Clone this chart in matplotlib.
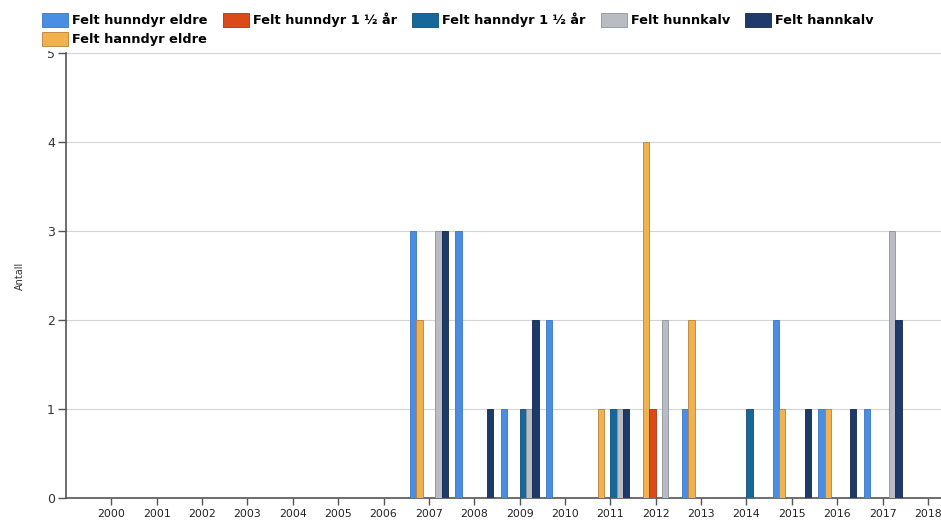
import matplotlib.pyplot as plt
from matplotlib.patches import Rectangle
import numpy as np

years = list(range(2000, 2019))

# values per year 2000..2018
hunndyr_eldre = [0, 0, 0, 0, 0, 0, 0, 3, 3, 1, 2, 0, 0, 1, 0, 2, 1, 1, 0]
hunndyr_15 = [0, 0, 0, 0, 0, 0, 0, 0, 0, 0, 0, 0, 1, 0, 0, 0, 0, 0, 0]
hanndyr_15 = [0, 0, 0, 0, 0, 0, 0, 0, 0, 1, 0, 1, 0, 0, 1, 0, 0, 0, 0]
hunnkalv = [0, 0, 0, 0, 0, 0, 0, 3, 0, 1, 0, 1, 2, 0, 0, 0, 0, 3, 0]
hannkalv = [0, 0, 0, 0, 0, 0, 0, 3, 1, 2, 0, 1, 0, 0, 0, 1, 1, 2, 0]
hanndyr_eldre = [0, 0, 0, 0, 0, 0, 0, 2, 0, 0, 0, 1, 4, 2, 0, 1, 1, 0, 0]

series = [
    ("Felt hunndyr eldre", hunndyr_eldre, "#4a8ee3", "#3a75c0"),
    ("Felt hunndyr 1 ½ år", hunndyr_15, "#dc4a1a", "#a83512"),
    ("Felt hanndyr 1 ½ år", hanndyr_15, "#17689a", "#0f4d74"),
    ("Felt hunnkalv", hunnkalv, "#b9bdc3", "#8e9399"),
    ("Felt hannkalv", hannkalv, "#1d3a6a", "#13284b"),
    ("Felt hanndyr eldre", hanndyr_eldre, "#f2b14f", "#b8813a"),
]
# order of bars inside each year group
bar_order = [0, 5, 1, 2, 3, 4]

fig = plt.figure(figsize=(9.41, 5.23), dpi=100)
ax = fig.add_axes([0.0701, 0.0478, 0.93, 0.851])

x = np.array(years, dtype=float)
w = 0.14
handles = {}
for pos, idx in enumerate(bar_order):
    name, vals, col, edge = series[idx]
    b = ax.bar(x + (pos - 2.5) * w, vals, width=w, color=col, edgecolor=edge,
               linewidth=0.6, zorder=3, label=name)
    handles[idx] = b

ax.set_xlim(1999, 2018.29)
ax.set_ylim(0, 5)
ax.set_xticks(years)
ax.set_xticklabels([str(y) for y in years], fontsize=7.8, color="#222222")
ax.set_yticks([0, 1, 2, 3, 4, 5])
ax.set_yticklabels(["0", "1", "2", "3", "4", "5"], fontsize=9, color="#333333")
ax.tick_params(axis="x", length=5, width=1, color="#555555", pad=3)
ax.tick_params(axis="y", length=6, width=1, color="#555555", pad=2)
ax.yaxis.grid(True, color="#d4d4d4", linewidth=0.8, zorder=0)
ax.set_axisbelow(True)
for s in ["top", "right"]:
    ax.spines[s].set_visible(False)
for s in ["left", "bottom"]:
    ax.spines[s].set_color("#555555")
    ax.spines[s].set_linewidth(1.2)
ax.set_ylabel("Antall", fontsize=7, color="#333333", labelpad=16)

# white band behind the legend hides the top of the plot, as in the original
fig.patches.append(Rectangle((0, 1 - 51 / 523), 880 / 941, 51 / 523,
                             transform=fig.transFigure, facecolor="white",
                             edgecolor="none", zorder=5))

# column-major fill: first column gets two entries
leg_order = [0, 5, 1, 2, 3, 4]
leg = fig.legend([handles[i] for i in leg_order], [series[i][0] for i in leg_order],
                 loc="upper left", bbox_to_anchor=(0.031, 1.0), ncol=5,
                 frameon=False,
                 handlelength=2.0, handleheight=1.3, handletextpad=0.3,
                 columnspacing=1.2, labelspacing=0.35, borderpad=0.5,
                 prop={"family": ["DejaVu Sans"], "weight": "bold", "size": 9.3})
leg.set_zorder(10)

fig.savefig("out.png", dpi=100)
